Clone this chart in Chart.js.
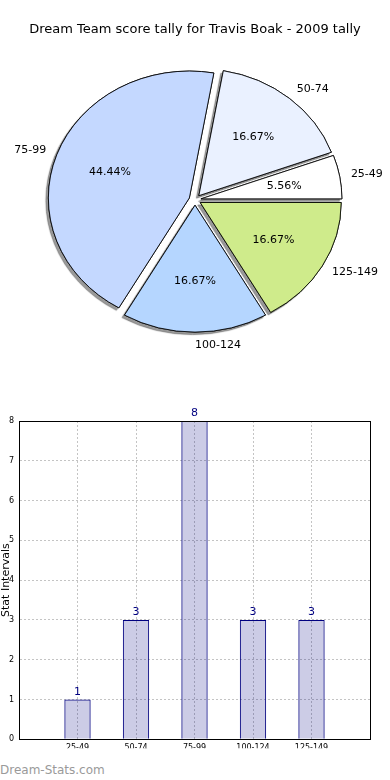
<!DOCTYPE html>
<html>
<head>
<meta charset="utf-8">
<script src="https://cdn.jsdelivr.net/npm/chart.js@4.4.1/dist/chart.umd.min.js"></script>
<style>
  body { margin: 0; background: #fff; width: 390px; height: 780px; position: relative; overflow: hidden; }
  #pieWrap { position: absolute; left: 0; top: 0; width: 390px; height: 362px; }
  #barWrap { position: absolute; left: 0; top: 400px; width: 390px; height: 349px; }
  #mark { position: absolute; left: 0; top: 763px; font: 12px "DejaVu Sans", sans-serif; color: #9a9a9a; }
</style>
</head>
<body>
<div id="pieWrap"><canvas id="pieChart" width="390" height="362"></canvas></div>
<div id="barWrap"><canvas id="barChart" width="390" height="349"></canvas></div>
<div id="mark">Dream-Stats.com</div>
<script>
"use strict";

// data
var titleText = "Dream Team score tally for Travis Boak - 2009 tally";
var categories = ["25-49", "50-74", "75-99", "100-124", "125-149"];
var counts = [1, 3, 8, 3, 3];
var pieColors = ["#ffffff", "#eaf1ff", "#c4d8ff", "#b5d6ff", "#cfeb8b"];
var yTicks = [0, 1, 2, 3, 4, 5, 6, 7, 8];

Chart.defaults.font.family = "'DejaVu Sans', sans-serif";
Chart.defaults.color = "#000";

var pieRadius = 141;
var squash = 0.9;     // the pie is drawn slightly flattened
var explode = 6;

// ------------------------------------------------------- //
// Pie Chart
// ------------------------------------------------------ //
// matplotlib goes counter-clockwise from 3 o'clock, chart.js clockwise,
// so feed the slices in reverse order
var pieLabels = categories.slice().reverse();
var pieData = counts.slice().reverse();
var pieFill = pieColors.slice().reverse();
var total = counts.reduce(function (a, b) { return a + b; }, 0);

function drawArcs(ctx, arcs, cx, cy, withShadow) {
    ctx.save();
    ctx.translate(cx, cy);
    ctx.scale(1, squash);
    ctx.translate(-cx, -cy);
    if (withShadow) {
        ctx.shadowColor = "rgba(0,0,0,0.4)";
        ctx.shadowOffsetX = -2.5;
        ctx.shadowOffsetY = 2.5;
        ctx.shadowBlur = 1;
    }
    arcs.forEach(function (arc) {
        var mid = (arc.startAngle + arc.endAngle) / 2;
        ctx.save();
        ctx.translate(Math.cos(mid) * explode, Math.sin(mid) * explode);
        arc.draw(ctx);
        ctx.restore();
    });
    ctx.restore();
}

var piePlugin = {
    id: "explodedPie",
    beforeDatasetDraw: function (chart, args) {
        var ctx = chart.ctx;
        var arcs = args.meta.data;
        var cx = arcs[0].x, cy = arcs[0].y;
        // shadows first, then the wedges on top
        drawArcs(ctx, arcs, cx, cy, true);
        drawArcs(ctx, arcs, cx, cy, false);

        ctx.save();
        ctx.font = "11px 'DejaVu Sans', sans-serif";
        ctx.fillStyle = "#000";
        ctx.textBaseline = "middle";
        arcs.forEach(function (arc, i) {
            var mid = (arc.startAngle + arc.endAngle) / 2;
            var c = Math.cos(mid), s = Math.sin(mid);
            var ox = c * explode, oy = s * explode * squash;
            ctx.textAlign = c > 0 ? "left" : "right";
            ctx.fillText(pieLabels[i], cx + ox + c * 1.08 * pieRadius, cy + oy + s * 1.1 * pieRadius * squash);
            ctx.textAlign = "center";
            var pct = (pieData[i] / total * 100).toFixed(2) + "%";
            ctx.fillText(pct, cx + ox + c * 0.6 * pieRadius, cy + oy + s * 0.6 * pieRadius * squash);
        });
        ctx.restore();
        return false;
    }
};

var PIECHART = document.getElementById("pieChart");
var myPieChart = new Chart(PIECHART, {
    type: "pie",
    data: {
        labels: pieLabels,
        datasets: [{
            data: pieData,
            backgroundColor: pieFill,
            borderColor: "#000",
            borderWidth: 0.9,
        }],
    },
    options: {
        responsive: false,
        animation: false,
        events: [],
        rotation: 90,
        radius: pieRadius,
        layout: { padding: 0 },
        plugins: {
            legend: { display: false },
            tooltip: { enabled: false },
            title: {
                display: true,
                text: titleText,
                font: { size: 13, weight: "normal" },
                color: "#000",
                padding: { top: 22, bottom: 0 },
            },
        },
    },
    plugins: [piePlugin],
});

// ------------------------------------------------------- //
// Bar Chart
// ------------------------------------------------------ //
// an empty slot each side so the bars sit at 1..5 on a 0..6 axis
var barLabels = [""].concat(categories, [""]);
var barData = [null].concat(counts, [null]);

var barExtras = {
    id: "barExtras",
    afterDatasetsDraw: function (chart) {
        var ctx = chart.ctx;
        var a = chart.chartArea;
        ctx.save();
        ctx.strokeStyle = "#000";
        ctx.lineWidth = 1;
        ctx.strokeRect(Math.round(a.left) + 0.5, Math.round(a.top) + 0.5,
            Math.round(a.right - a.left), Math.round(a.bottom - a.top));
        ctx.font = "11px 'DejaVu Sans', sans-serif";
        ctx.fillStyle = "#000080";
        ctx.textAlign = "center";
        ctx.textBaseline = "bottom";
        chart.getDatasetMeta(0).data.forEach(function (bar, i) {
            if (barData[i] == null) return;
            ctx.fillText(String(barData[i]), bar.x, bar.y - 2);
        });
        ctx.restore();
    }
};

var BARCHART = document.getElementById("barChart");
var myBarChart = new Chart(BARCHART, {
    type: "bar",
    data: {
        labels: barLabels,
        datasets: [{
            data: barData,
            backgroundColor: "rgba(0,0,128,0.2)",
            borderColor: "#000080",
            borderWidth: 1,
            barPercentage: 0.45,
            categoryPercentage: 1,
        }],
    },
    options: {
        responsive: false,
        animation: false,
        events: [],
        layout: { padding: { top: 21, right: 20, left: 0, bottom: 0 } },
        plugins: {
            legend: { display: false },
            tooltip: { enabled: false },
        },
        scales: {
            x: {
                offset: false,
                grid: {
                    offset: false,
                    color: "#c4c4c4",
                    drawTicks: false,
                },
                border: { display: true, color: "#000", dash: [2, 2] },
                ticks: {
                    font: { size: 8 },
                    color: "#000",
                    padding: 4,
                    maxRotation: 0,
                    autoSkip: false,
                },
                afterFit: function (scale) { scale.height = 9; },
            },
            y: {
                min: yTicks[0],
                max: yTicks[yTicks.length - 1],
                grid: {
                    color: "#c4c4c4",
                    drawTicks: false,
                },
                border: { display: true, color: "#000", dash: [2, 2] },
                ticks: {
                    stepSize: 1,
                    font: { size: 8 },
                    color: "#000",
                    padding: 5,
                },
                title: {
                    display: true,
                    text: "Stat Intervals",
                    font: { size: 11 },
                    color: "#000",
                    padding: 0,
                },
                afterFit: function (scale) { scale.width = 19; },
            },
        },
    },
    plugins: [barExtras],
});
</script>
</body>
</html>
